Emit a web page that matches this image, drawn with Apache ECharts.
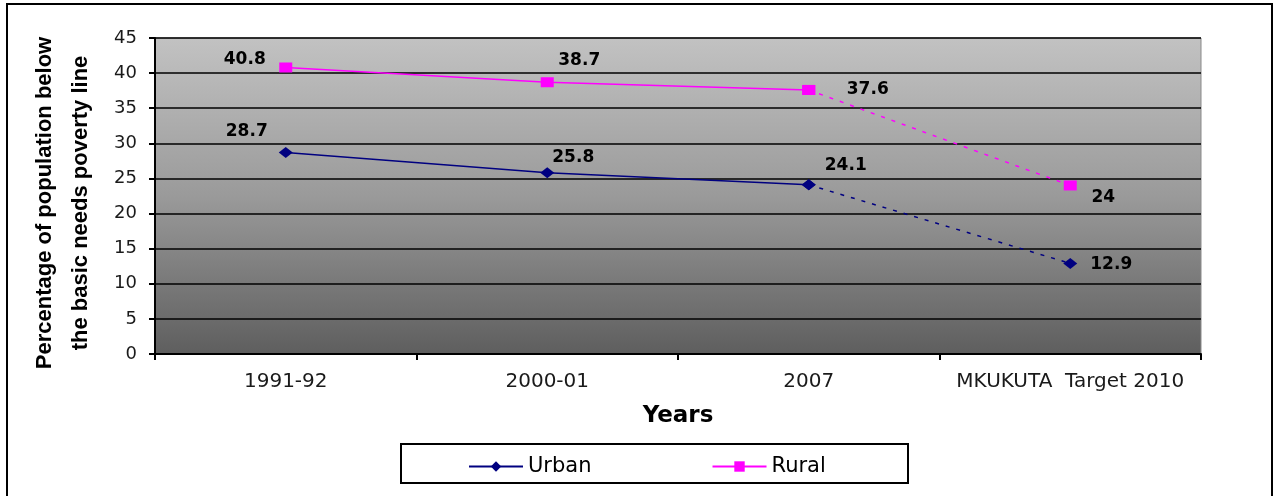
<!DOCTYPE html>
<html>
<head>
<meta charset="utf-8">
<script src="https://cdn.jsdelivr.net/npm/echarts@6/dist/echarts.min.js"></script>
<style>
  html, body { margin: 0; padding: 0; background: #fff; }
  #chart { width: 1279px; height: 496px; }
</style>
</head>
<body>
<div id="chart"></div>
<script>
// Survey years plus the MKUKUTA target year
const categories = ['1991-92', '2000-01', '2007', 'MKUKUTA  Target 2010'];
// Percentage of population below the basic needs poverty line
const urban = [28.7, 25.8, 24.1, 12.9];
const rural = [40.8, 38.7, 37.6, 24];
// Index of the first projected (target) value; the segment leading to it is dashed
const targetIndex = 3;
const yTicks = { min: 0, max: 45, step: 5 };

// Label offsets (px) per point, kept apart from the values
const urbanLabelOffset = [[-39, -21], [26, -15], [37, -19], [41, 1]];
const ruralLabelOffset = [[-41, -8], [32, -22], [59, 0], [33, 12]];

const wideFont = 'DejaVu Sans, Verdana, sans-serif';
const labelStyle = { fontFamily: wideFont, fontSize: 17, fontWeight: 'bold', color: '#000' };

function observedPart(values, offsets) {
  return values.map((v, i) => i < targetIndex
    ? { value: v, label: { show: true, position: 'inside', offset: offsets[i], ...labelStyle } }
    : null);
}
function projectedPart(values, offsets) {
  return values.map((v, i) => i >= targetIndex - 1
    ? { value: v, label: { show: i >= targetIndex, position: 'inside', offset: offsets[i], ...labelStyle } }
    : null);
}

const navy = '#000080';
const magenta = '#ff00ff';

const chart = echarts.init(document.getElementById('chart'));
chart.setOption({
  animation: false,
  textStyle: { fontFamily: wideFont },
  grid: {
    left: 155, right: 78, top: 38, bottom: 142,
    show: true,
    borderColor: '#8a8a8a',
    borderWidth: 1,
    backgroundColor: new echarts.graphic.LinearGradient(0, 0, 0, 1, [
      { offset: 0, color: '#c2c2c2' },
      { offset: 0.5, color: '#9a9a9a' },
      { offset: 1, color: '#5e5e5e' }
    ])
  },
  legend: {
    data: ['Urban', 'Rural'],
    left: 463, top: 451,
    itemWidth: 54, itemHeight: 13, itemGap: 120,
    textStyle: { fontFamily: wideFont, fontSize: 21, color: '#000', padding: [0, 0, 0, 0] }
  },
  xAxis: {
    type: 'category',
    data: categories,
    boundaryGap: true,
    name: 'Years',
    nameLocation: 'middle',
    nameGap: 51,
    nameTextStyle: { fontFamily: wideFont, fontSize: 23, fontWeight: 'bold', color: '#000' },
    axisLine: { lineStyle: { color: '#000', width: 2 } },
    axisTick: { show: true, inside: false, interval: 0, length: 6, lineStyle: { color: '#000', width: 2 } },
    axisLabel: { interval: 0, hideOverlap: false, fontFamily: wideFont, fontSize: 20, color: '#1a1a1a', margin: 18 },
    splitLine: { show: false }
  },
  yAxis: {
    type: 'value',
    min: yTicks.min, max: yTicks.max, interval: yTicks.step,
    name: 'Percentage of population below\nthe basic needs poverty line',
    nameLocation: 'middle',
    nameGap: 56,
    nameTextStyle: {
      fontFamily: 'Liberation Sans, Arial, sans-serif', fontSize: 22, fontWeight: 'bold',
      color: '#000', lineHeight: 36, padding: [0, 14, 0, 0]
    },
    axisLine: { show: true, lineStyle: { color: '#000', width: 2 } },
    axisTick: { show: true, inside: false, length: 6, lineStyle: { color: '#000', width: 2 } },
    axisLabel: { fontFamily: wideFont, fontSize: 18, color: '#1a1a1a', margin: 18 },
    splitLine: { show: true, lineStyle: { color: '#000', width: 1.5 } }
  },
  series: [
    {
      name: 'Urban', type: 'line', data: observedPart(urban, urbanLabelOffset),
      symbol: 'diamond', symbolSize: [14, 11],
      itemStyle: { color: navy }, lineStyle: { color: navy, width: 1.5 }, z: 3
    },
    {
      name: 'Urban target', type: 'line', data: projectedPart(urban, urbanLabelOffset),
      symbol: 'diamond', symbolSize: [14, 11],
      itemStyle: { color: navy }, lineStyle: { color: navy, width: 1.5, type: [4, 7] }, z: 2
    },
    {
      name: 'Rural', type: 'line', data: observedPart(rural, ruralLabelOffset),
      symbol: 'rect', symbolSize: [13, 10],
      itemStyle: { color: magenta }, lineStyle: { color: magenta, width: 1.5 }, z: 3
    },
    {
      name: 'Rural target', type: 'line', data: projectedPart(rural, ruralLabelOffset),
      symbol: 'rect', symbolSize: [13, 10],
      itemStyle: { color: magenta }, lineStyle: { color: magenta, width: 1.5, type: [4, 7] }, z: 2
    }
  ],
  graphic: [
    { type: 'rect', shape: { x: 7, y: 4, width: 1265, height: 600 }, style: { fill: null, stroke: '#000', lineWidth: 2 }, silent: true },
    { type: 'rect', shape: { x: 401, y: 444, width: 507, height: 39 }, style: { fill: null, stroke: '#000', lineWidth: 2 }, silent: true }
  ]
});
</script>
</body>
</html>
